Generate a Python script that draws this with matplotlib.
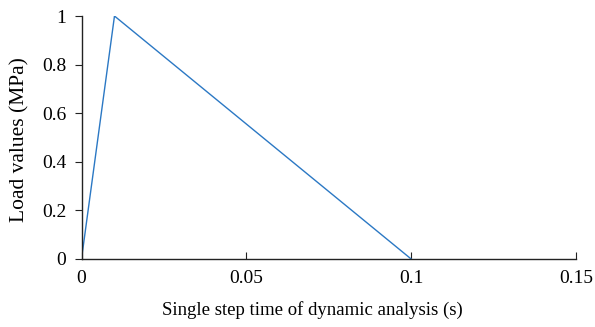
import matplotlib
matplotlib.use("Agg")
import matplotlib.pyplot as plt

time_s = [0.0, 0.01, 0.1]
load_mpa = [0.0, 1.0, 0.0]
x_ticks = [0, 0.05, 0.1, 0.15]
x_tick_labels = ["0", "0.05", "0.1", "0.15"]
y_ticks = [0, 0.2, 0.4, 0.6, 0.8, 1.0]
y_tick_labels = ["0", "0.2", "0.4", "0.6", "0.8", "1"]

plt.rcParams['font.family'] = ['Liberation Serif', 'DejaVu Serif']

fig = plt.figure(figsize=(5.95, 3.27), dpi=100)
ax = fig.add_axes([0.137, 0.208, 0.831, 0.743])
ax.plot(time_s, load_mpa, color="#2b78c4", lw=1.0)
ax.set_xlim(0, 0.15)
ax.set_ylim(0, 1)
ax.set_xticks(x_ticks)
ax.set_xticklabels(x_tick_labels)
ax.set_yticks(y_ticks)
ax.set_yticklabels(y_tick_labels)
for s in ["top", "right"]:
    ax.spines[s].set_visible(False)
for s in ["left", "bottom"]:
    ax.spines[s].set_color("#222222")
    ax.spines[s].set_linewidth(1.0)
ax.tick_params(axis="x", direction="in", length=5, labelsize=14, pad=8, color="#222222")
ax.tick_params(axis="y", direction="out", length=5, labelsize=14, pad=6, color="#222222")
ax.set_xlabel("Single step time of dynamic analysis (s)", fontsize=13.5)
ax.xaxis.set_label_coords(0.467, -0.175)
ax.set_ylabel("Load values (MPa)", fontsize=15.5)
ax.yaxis.set_label_coords(-0.105, 0.49)
fig.savefig("out.png", dpi=100)
